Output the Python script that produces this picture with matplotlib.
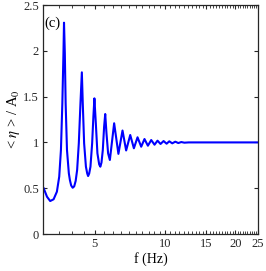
import numpy as np
import matplotlib
matplotlib.use("Agg")
import matplotlib.pyplot as plt
from matplotlib.ticker import FixedLocator, NullFormatter

# values (frequency in Hz, normalised amplitude)
freq = [3.02, 3.12, 3.22, 3.33, 3.44, 3.52, 3.58, 3.63, 3.67, 3.69,
        3.72, 3.75, 3.80, 3.87, 3.91, 3.96, 4.02, 4.08, 4.14, 4.20, 4.27, 4.34,
        4.40, 4.44, 4.50, 4.58, 4.64, 4.68, 4.73, 4.79, 4.87, 4.93, 4.98, 5.05,
        5.13, 5.22, 5.28, 5.34, 5.41, 5.48, 5.54, 5.61, 5.70, 5.80, 6.05, 6.31,
        6.57, 6.81, 7.09, 7.35, 7.62, 7.90, 8.16, 8.44, 8.72, 9.01,
        9.28, 9.56, 9.85, 10.15, 10.42, 10.73, 11.06, 11.39, 11.73, 12.09,
        12.61, 25.0]
eta = [0.499, 0.407, 0.360, 0.379, 0.462, 0.626, 0.917, 1.427, 1.973, 2.307,
       1.973, 1.427, 0.917, 0.663, 0.590, 0.530, 0.505, 0.520, 0.580, 0.699, 0.990, 1.427,
       1.765, 1.427, 0.990, 0.735, 0.660, 0.633, 0.660, 0.735, 0.990, 1.281, 1.481, 1.209,
       0.881, 0.760, 0.735, 0.780, 0.917, 1.171, 1.310, 1.099, 0.881, 0.808, 1.209, 0.875,
       1.130, 0.912, 1.081, 0.936, 1.056, 0.953, 1.037, 0.964, 1.026, 0.975,
       1.019, 0.983, 1.015, 0.986, 1.012, 0.990, 1.008, 0.993, 1.004, 0.997,
       1.0, 1.0]

x_major = [5, 10, 15, 20, 25]
x_minor = np.arange(3, 25.01, 0.5)
y_ticks = [0, 0.5, 1, 1.5, 2, 2.5]

plt.rcParams["font.family"] = "Liberation Serif"
plt.rcParams["mathtext.fontset"] = "stix"

fig = plt.figure(figsize=(2.66, 2.71), dpi=100)
ax = fig.add_axes([0.1617, 0.1365, 0.8083, 0.845])

ax.plot(freq, eta, color=(0, 0, 1), linewidth=1.5)

ax.set_xscale("log")
ax.set_xlim(3, 25)
ax.set_ylim(0, 2.5)
ax.xaxis.set_major_locator(FixedLocator(x_major))
ax.xaxis.set_minor_locator(FixedLocator(x_minor))
ax.xaxis.set_minor_formatter(NullFormatter())
ax.set_xticklabels([str(v) for v in x_major])
ax.set_yticks(y_ticks)
ax.set_yticklabels(["0", "0.5", "1", "1.5", "2", "2.5"])

edge = "#262626"
for s in ax.spines.values():
    s.set_color(edge)
    s.set_linewidth(0.9)
ax.tick_params(which="both", direction="in", top=True, right=True,
               color=edge, labelsize=9, labelcolor="#262626")
ax.tick_params(which="major", length=3, width=0.8, pad=3)
ax.tick_params(which="minor", length=2, width=0.6)

ax.set_xlabel("f (Hz)", fontsize=10, labelpad=1)
ax.set_ylabel(r"< $\eta$ > / A$_0$", fontsize=10.5, labelpad=1)
ax.text(0.005, 0.95, "(c)", transform=ax.transAxes, fontsize=10.5,
        ha="left", va="top")

fig.savefig("out.png", dpi=100)
